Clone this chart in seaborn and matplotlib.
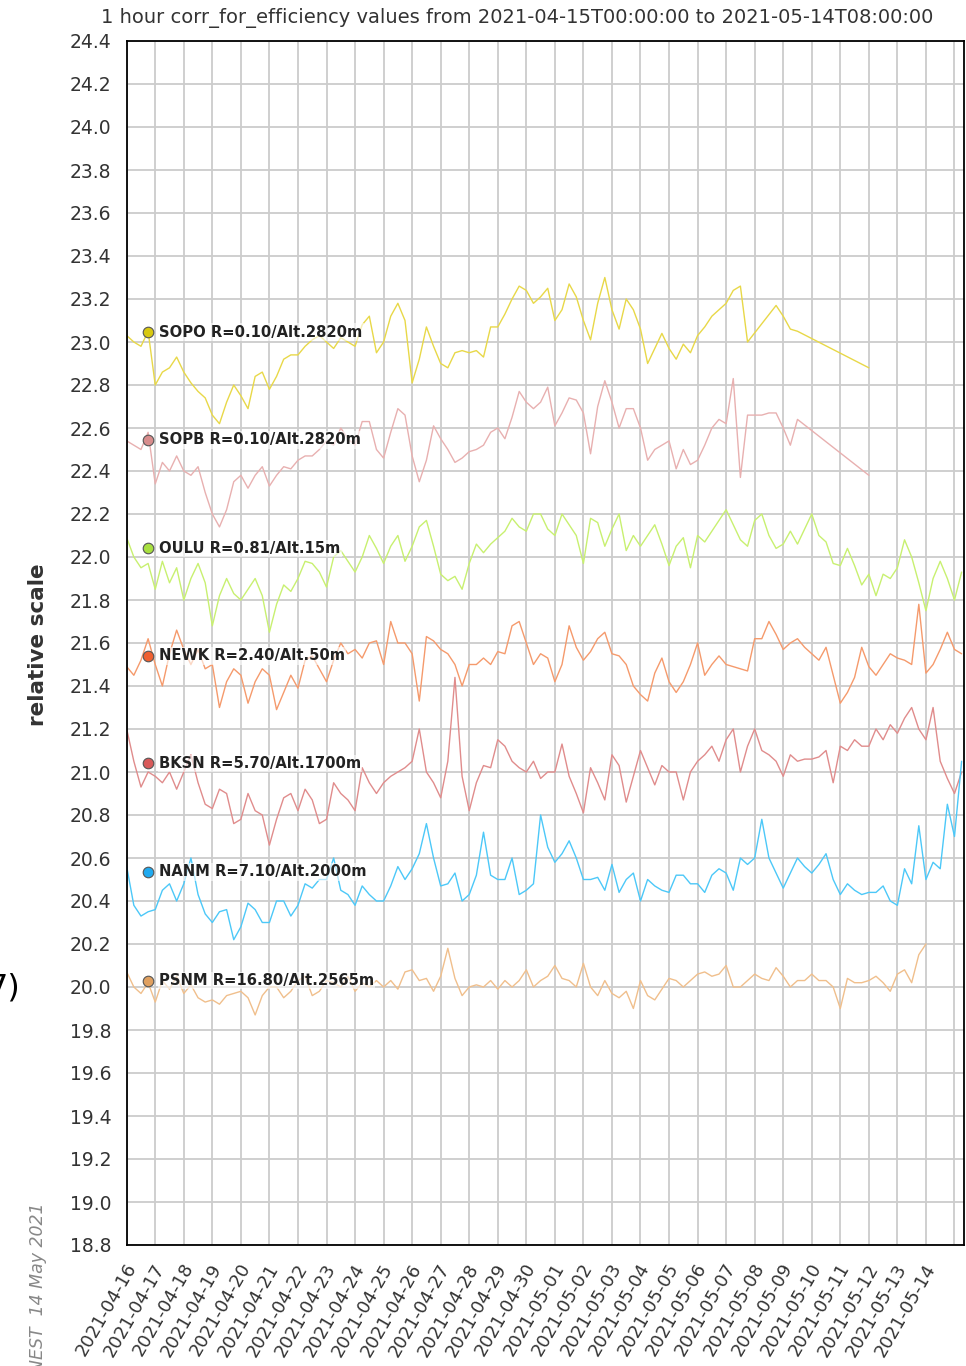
import numpy as np
import pandas as pd
import matplotlib
matplotlib.use("Agg")
import matplotlib.pyplot as plt
import matplotlib.transforms as mtransforms
from matplotlib.ticker import MultipleLocator, FormatStrFormatter
import seaborn as sns

nan = np.nan

# 6-hourly readings, 2021-04-15T00 onwards
times = pd.date_range("2021-04-15 00:00", periods=118, freq="6h")

sopo = [23.03, 23.0, 22.98, 23.05, 22.8, 22.86, 22.88, 22.93,
        22.86, 22.81, 22.77, 22.74, 22.66, 22.62, 22.72, 22.8,
        22.75, 22.69, 22.84, 22.86, 22.78, 22.84, 22.92, 22.94,
        22.94, 22.98, 23.01, 23.03, 23.0, 22.97, 23.02, 23.0,
        22.98, 23.08, 23.12, 22.95, 23.0, 23.12, 23.18, 23.1,
        22.81, 22.92, 23.07, 22.98, 22.9, 22.88, 22.95, 22.96,
        22.95, 22.96, 22.93, 23.07, 23.07, 23.13, 23.2, 23.26,
        23.24, 23.18, 23.21, 23.25, 23.1, 23.15, 23.27, 23.21,
        23.1, 23.01, 23.18, 23.3, 23.15, 23.06, 23.2, 23.15,
        23.06, 22.9, 22.97, 23.04, 22.97, 22.92, 22.99, 22.95,
        23.03, 23.07, 23.12, 23.15, 23.18, 23.24, 23.26, 23.0,
        nan, nan, nan, 23.17, 23.12, 23.06, 23.05, nan,
        nan, nan, nan, nan, nan, nan, nan, nan,
        22.88, nan, nan, nan, nan, nan, nan, nan,
        nan, nan, nan, nan, nan, nan]

sopb = [22.54, 22.52, 22.5, 22.58, 22.34, 22.44, 22.4, 22.47,
        22.4, 22.38, 22.42, 22.3, 22.2, 22.14, 22.22, 22.35,
        22.38, 22.32, 22.38, 22.42, 22.33, 22.38, 22.42, 22.41,
        22.45, 22.47, 22.47, 22.5, 22.54, 22.52, 22.6, 22.55,
        22.52, 22.63, 22.63, 22.5, 22.46, 22.58, 22.69, 22.66,
        22.47, 22.35, 22.45, 22.61, 22.55, 22.5, 22.44, 22.46,
        22.49, 22.5, 22.52, 22.58, 22.6, 22.55, 22.65, 22.77,
        22.72, 22.69, 22.72, 22.79, 22.61, 22.67, 22.74, 22.73,
        22.67, 22.48, 22.7, 22.82, 22.72, 22.6, 22.69, 22.69,
        22.6, 22.45, 22.5, 22.52, 22.54, 22.41, 22.5, 22.43,
        22.45, 22.52, 22.6, 22.64, 22.62, 22.83, 22.37, 22.66,
        22.66, 22.66, 22.67, 22.67, 22.6, 22.52, 22.64, nan,
        nan, nan, nan, nan, nan, nan, nan, nan,
        22.38, nan, nan, nan, nan, nan, nan, nan,
        nan, nan, nan, nan, nan, nan]

oulu = [22.09, 22.0, 21.95, 21.97, 21.85, 21.98, 21.88, 21.95,
        21.8, 21.9, 21.97, 21.88, 21.68, 21.82, 21.9, 21.83,
        21.8, 21.85, 21.9, 21.82, 21.65, 21.78, 21.87, 21.84,
        21.9, 21.98, 21.97, 21.93, 21.86, 22.0, 22.03, 21.98,
        21.93, 22.0, 22.1, 22.04, 21.97, 22.05, 22.1, 21.98,
        22.05, 22.14, 22.17, 22.05, 21.92, 21.89, 21.91, 21.85,
        21.97, 22.06, 22.02, 22.06, 22.09, 22.12, 22.18, 22.14,
        22.12, 22.2, 22.2, 22.13, 22.1, 22.2, 22.15, 22.1,
        21.97, 22.18, 22.16, 22.05, 22.13, 22.2, 22.03, 22.1,
        22.05, 22.1, 22.15, 22.06, 21.96, 22.05, 22.09, 21.95,
        22.1, 22.07, 22.12, 22.17, 22.22, 22.15, 22.08, 22.05,
        22.17, 22.2, 22.1, 22.04, 22.06, 22.12, 22.06, 22.13,
        22.2, 22.1, 22.07, 21.97, 21.96, 22.04, 21.96, 21.87,
        21.92, 21.82, 21.92, 21.9, 21.95, 22.08, 22.0, 21.88,
        21.75, 21.9, 21.98, 21.9, 21.8, 21.93]

newk = [21.49, 21.45, 21.52, 21.62, 21.5, 21.4, 21.55, 21.66,
        21.57, 21.5, 21.57, 21.48, 21.5, 21.3, 21.42, 21.48,
        21.45, 21.32, 21.42, 21.48, 21.45, 21.29, 21.37, 21.45,
        21.39, 21.52, 21.54, 21.48, 21.42, 21.52, 21.6, 21.55,
        21.57, 21.53, 21.6, 21.61, 21.5, 21.7, 21.6, 21.6,
        21.55, 21.33, 21.63, 21.61, 21.57, 21.55, 21.5, 21.4,
        21.5, 21.5, 21.53, 21.5, 21.56, 21.55, 21.68, 21.7,
        21.6, 21.5, 21.55, 21.53, 21.42, 21.5, 21.68, 21.58,
        21.52, 21.56, 21.62, 21.65, 21.55, 21.54, 21.5, 21.4,
        21.36, 21.33, 21.46, 21.53, 21.42, 21.37, 21.42, 21.5,
        21.6, 21.45, 21.5, 21.54, 21.5, nan, nan, 21.47,
        21.62, 21.62, 21.7, 21.64, 21.57, 21.6, 21.62, 21.58,
        21.55, 21.52, 21.58, 21.45, 21.32, 21.37, 21.44, 21.58,
        21.49, 21.45, 21.5, 21.55, 21.53, 21.52, 21.5, 21.78,
        21.46, 21.5, 21.57, 21.65, 21.57, 21.55]

bksn = [21.2, 21.05, 20.93, 21.0, 20.98, 20.95, 21.0, 20.92,
        21.0, 21.08, 20.95, 20.85, 20.83, 20.92, 20.9, 20.76,
        20.78, 20.9, 20.82, 20.8, 20.66, 20.78, 20.88, 20.9,
        20.82, 20.92, 20.87, 20.76, 20.78, 20.95, 20.9, 20.87,
        20.82, 21.02, 20.95, 20.9, 20.95, 20.98, 21.0, 21.02,
        21.05, 21.2, 21.0, 20.95, 20.88, 21.05, 21.44, 20.98,
        20.82, 20.95, 21.03, 21.02, 21.15, 21.12, 21.05, 21.02,
        21.0, 21.05, 20.97, 21.0, 21.0, 21.13, 20.98, 20.9,
        20.81, 21.02, 20.95, 20.87, 21.08, 21.03, 20.86, 20.98,
        21.1, 21.02, 20.94, 21.03, 21.0, 21.0, 20.87, 21.0,
        21.05, 21.08, 21.12, 21.05, 21.15, 21.2, 21.0, 21.12,
        21.2, 21.1, 21.08, 21.05, 20.98, 21.08, 21.05, 21.06,
        21.06, 21.07, 21.1, 20.95, 21.12, 21.1, 21.15, 21.12,
        21.12, 21.2, 21.15, 21.22, 21.18, 21.25, 21.3, 21.2,
        21.15, 21.3, 21.05, 20.97, 20.9, 21.0]

nanm = [20.56, 20.38, 20.33, 20.35, 20.36, 20.45, 20.48, 20.4,
        20.48, 20.6, 20.43, 20.34, 20.3, 20.35, 20.36, 20.22,
        20.28, 20.39, 20.36, 20.3, 20.3, 20.4, 20.4, 20.33,
        20.38, 20.48, 20.46, 20.5, 20.5, 20.6, 20.45, 20.43,
        20.38, 20.47, 20.43, 20.4, 20.4, 20.47, 20.56, 20.5,
        20.55, 20.62, 20.76, 20.6, 20.47, 20.48, 20.53, 20.4,
        20.43, 20.52, 20.72, 20.52, 20.5, 20.5, 20.6, 20.43,
        20.45, 20.48, 20.8, 20.65, 20.58, 20.62, 20.68, 20.6,
        20.5, 20.5, 20.51, 20.45, 20.57, 20.44, 20.5, 20.53,
        20.4, 20.5, 20.47, 20.45, 20.44, 20.52, 20.52, 20.48,
        20.48, 20.44, 20.52, 20.55, 20.53, 20.45, 20.6, 20.57,
        20.6, 20.78, 20.6, 20.53, 20.46, 20.53, 20.6, 20.56,
        20.53, 20.57, 20.62, 20.5, 20.43, 20.48, 20.45, 20.43,
        20.44, 20.44, 20.47, 20.4, 20.38, 20.55, 20.48, 20.75,
        20.5, 20.58, 20.55, 20.85, 20.7, 21.05]

psnm = [20.07, 20.0, 19.97, 20.02, 19.93, 20.03, 19.99, 20.05,
        19.97, 20.01, 19.95, 19.93, 19.94, 19.92, 19.96, 19.97,
        19.98, 19.95, 19.87, 19.96, 20.0, 20.0, 19.95, 19.98,
        20.03, 20.05, 19.96, 19.98, 20.03, 20.02, 20.0, 20.05,
        19.98, 20.02, 20.0, 20.03, 20.0, 20.03, 19.99, 20.07,
        20.08, 20.03, 20.04, 19.98, 20.05, 20.18, 20.04, 19.96,
        20.0, 20.01, 20.0, 20.03, 19.99, 20.03, 20.0, 20.03,
        20.08, 20.0, 20.03, 20.05, 20.1, 20.04, 20.03, 20.0,
        20.11, 20.0, 19.96, 20.03, 19.97, 19.95, 19.98, 19.9,
        20.03, 19.96, 19.94, 19.99, 20.04, 20.03, 20.0, 20.03,
        20.06, 20.07, 20.05, 20.06, 20.1, 20.0, 20.0, 20.03,
        20.06, 20.04, 20.03, 20.09, 20.05, 20.0, 20.03, 20.03,
        20.06, 20.03, 20.03, 20.0, 19.9, 20.04, 20.02, 20.02,
        20.03, 20.05, 20.02, 19.98, 20.06, 20.08, 20.02, 20.15,
        20.2, nan, nan, nan, nan, nan]

stations = ["SOPO", "SOPB", "OULU", "NEWK", "BKSN", "NANM", "PSNM"]
station_labels = ["SOPO R=0.10/Alt.2820m", "SOPB R=0.10/Alt.2820m",
                  "OULU R=0.81/Alt.15m", "NEWK R=2.40/Alt.50m",
                  "BKSN R=5.70/Alt.1700m", "NANM R=7.10/Alt.2000m",
                  "PSNM R=16.80/Alt.2565m"]
series = [sopo, sopb, oulu, newk, bksn, nanm, psnm]
line_colors = ["#e8d848", "#e8b0b0", "#c8f070", "#f59a6c", "#e08c8c", "#4cc8f8", "#f0bf8c"]
dot_colors = ["#d8c810", "#d88c8c", "#a8e040", "#f06030", "#d85a5a", "#20aaf0", "#e0a060"]
label_y = [23.045, 22.545, 22.04, 21.54, 21.04, 20.535, 20.03]

tick_days = pd.date_range("2021-04-15", "2021-05-14", freq="D")
tick_labels = list((tick_days[1:]).strftime("%Y-%m-%d")) + [""]

sns.set_style("white")
plt.rcParams["font.family"] = ["DejaVu Sans"]

W, H = 966, 1366
fig = plt.figure(figsize=(W / 100, H / 100), dpi=100)
ax = fig.add_axes([126.7 / W, 1 - 1245 / H, (964 - 126.7) / W, (1245 - 41) / H])

for name, vals, col in zip(stations, series, line_colors):
    df = pd.DataFrame({"time": times, "value": vals}).dropna()
    sns.lineplot(data=df, x="time", y="value", color=col, lw=1.0,
                 estimator=None, ax=ax)

ax.set_xlim(pd.Timestamp("2021-04-15 00:00"), pd.Timestamp("2021-05-14 08:00"))
ax.set_ylim(18.8, 24.4)
ax.yaxis.set_major_locator(MultipleLocator(0.2))
ax.yaxis.set_minor_locator(MultipleLocator(0.1))
ax.yaxis.set_major_formatter(FormatStrFormatter("%.1f"))
ax.set_xticks(tick_days)
ax.set_xticklabels(tick_labels, rotation=60, ha="right")
ax.xaxis.set_minor_locator(matplotlib.ticker.NullLocator())

ax.set_axisbelow(True)
ax.grid(True, which="major", color="#cccccc", lw=1.3)
for s in ax.spines.values():
    s.set_color("black")
    s.set_linewidth(1.3)

ax.tick_params(axis="y", which="major", direction="in", length=8, width=1.2,
               pad=11, labelsize=13.5, labelcolor="#333333")
ax.tick_params(axis="y", which="minor", direction="in", length=6, width=1.2)
ax.tick_params(axis="x", which="major", direction="out", length=9, width=1.2,
               pad=2, labelsize=13, labelcolor="#333333")
shift = mtransforms.ScaledTranslation(13 / 100, 0, fig.dpi_scale_trans)
for lbl in ax.get_xticklabels():
    lbl.set_transform(lbl.get_transform() + shift)

ax.set_xlabel("")
ax.set_ylabel("")

# station markers and labels
trans = mtransforms.blended_transform_factory(ax.transAxes, ax.transData)
for lab, yv, dc in zip(station_labels, label_y, dot_colors):
    ax.scatter([0.0254], [yv], s=58, color=dc, edgecolor="#555555",
               linewidth=0.8, transform=trans, zorder=5, clip_on=False)
    ax.text(0.0386, yv, lab, transform=trans, fontsize=10.6, fontweight="bold",
            color="#222222", va="center", ha="left", zorder=6,
            bbox=dict(facecolor="white", alpha=0.6, edgecolor="none", pad=1))

fig.text(517 / W, 1 - 18 / H,
         "1 hour corr_for_efficiency values from 2021-04-15T00:00:00 to 2021-05-14T08:00:00",
         ha="center", va="center", fontsize=14, color="#333333")
fig.text(38 / W, 1 - 645 / H, "relative scale", rotation=90, ha="center", va="center",
         fontsize=15.5, fontweight="bold", color="#333333")
fig.text(38 / W, 1 - 1203 / H, "NEST  14 May 2021", rotation=90, ha="center", va="top",
         fontsize=12.5, color="#888888", style="italic")
fig.text(20 / W, 1 - 988 / H, "7)", ha="right", va="center", fontsize=23, color="black")

fig.savefig("out.png", dpi=100)
